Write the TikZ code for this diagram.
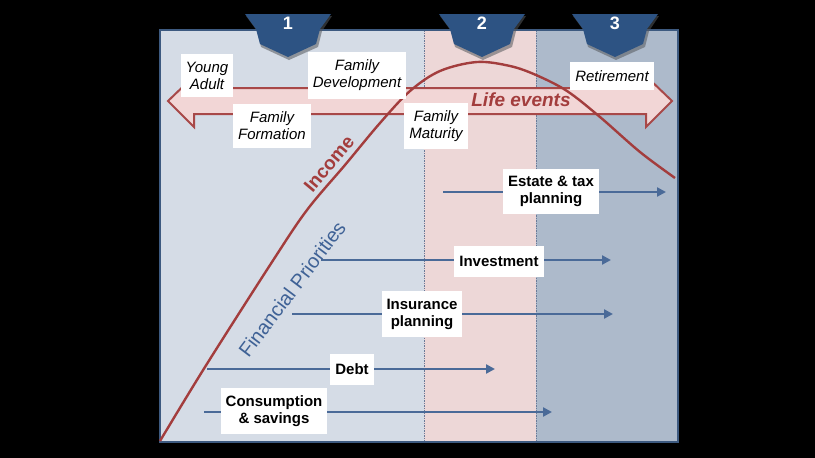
\documentclass[tikz,border=0pt]{standalone}
\usepackage{fontspec}
\setmainfont{Liberation Sans}
\usetikzlibrary{arrows.meta}
\definecolor{bgleft}{HTML}{D5DCE6}
\definecolor{bgmid}{HTML}{EDD7D7}
\definecolor{bgright}{HTML}{ADBACB}
\definecolor{framec}{HTML}{3D5A80}
\definecolor{divc}{HTML}{6A7A98}
\definecolor{tabblue}{HTML}{2D5383}
\definecolor{arrowblue}{HTML}{4A6A98}
\definecolor{incred}{HTML}{A33D3D}
\definecolor{lifefill}{HTML}{F2D6D6}
\definecolor{lifeline}{HTML}{A84848}
\definecolor{prioblue}{HTML}{3F6296}
\begin{document}
\begin{tikzpicture}[x=1pt,y=-1pt,
  lbl/.style={fill=white, inner xsep=5pt, inner ysep=8pt, align=center,
    font=\fontsize{15}{17}\selectfont\itshape},
  pri/.style={fill=white, inner xsep=5pt, inner ysep=7.5pt, minimum height=31pt,
    align=center, font=\fontsize{15}{17}\selectfont\bfseries},
  flow/.style={draw=arrowblue, line width=2.8pt, -{Triangle[length=9pt,width=9pt]}},
  divider/.style={draw=divc, line width=0.8pt, dash pattern=on 1.5pt off 1pt},
  tabnum/.style={text=white, font=\fontsize{18}{20}\selectfont\bfseries},
]
% background
\fill[black] (0,0) rectangle (815,458);
\useasboundingbox (0,0) rectangle (815,458);
% regions
\fill[bgleft] (160,30) rectangle (424,442);
\fill[bgmid] (424,30) rectangle (536,442);
\fill[bgright] (536,30) rectangle (678,442);
\draw[divider] (424,30) -- (424,442);
\draw[divider] (536,30) -- (536,442);
\draw[framec, line width=2pt] (160,30) rectangle (678,442);

% life events arrow
\filldraw[fill=lifefill, draw=lifeline, line width=2pt, line join=miter]
  (168,101) -- (194,76) -- (194,88) -- (646,88) -- (646,76) -- (672,101)
  -- (646,127) -- (646,114) -- (194,114) -- (194,127) -- cycle;
\node[text=incred, font=\fontsize{19}{21}\selectfont\bfseries\itshape] (life) at (521,100) {Life events};

% priority arrows (lines first)
\coordinate (estS) at (443,192); \coordinate (estE) at (666,192);
\coordinate (invS) at (321,260); \coordinate (invE) at (611,260);
\coordinate (insS) at (292,314); \coordinate (insE) at (613,314);
\coordinate (debS) at (207,369); \coordinate (debE) at (495,369);
\coordinate (conS) at (204,412); \coordinate (conE) at (552,412);
\draw[flow] (estS) -- (estE);
\draw[flow] (invS) -- (invE);
\draw[flow] (insS) -- (insE);
\draw[flow] (debS) -- (debE);
\draw[flow] (conS) -- (conE);

% income curve
\draw[incred, line width=2.4pt] plot[smooth, tension=0.55] coordinates {
  (160,441) (205,367) (272,262) (307,210) (345,165) (380,123) (410,91)
  (440,71) (477,62) (510,66) (536,75) (567,91) (600,117) (640,152) (675,178)};
\node[text=incred, font=\fontsize{19}{21}\selectfont\bfseries, rotate=50] (income) at (329,164) {Income};
\node[text=prioblue, font=\fontsize{20}{22}\selectfont, rotate=53] (fin) at (292,289) {Financial Priorities};

% life stage labels
\node[lbl] (young) at (207,75.5) {Young\\Adult};
\node[lbl] (fdev) at (357,75.5) {Family\\Development};
\node[lbl] (fform) at (272,126) {Family\\Formation};
\node[lbl] (fmat) at (436,126) {Family\\Maturity};
\node[lbl] (ret) at (612,76) {Retirement};

% priority labels
\node[pri] (est) at (551,191.5) {Estate \& tax\\planning};
\node[pri] (inv) at (499,261) {Investment};
\node[pri] (ins) at (422,314) {Insurance\\planning};
\node[pri] (deb) at (352,369.5) {Debt};
\node[pri] (con) at (274,411) {Consumption\\\& savings};

% tabs
\foreach \cx/\n in {288/1, 482/2, 615/3}{
  \fill[black!60!bgleft, opacity=0.55] (\cx-42,16) -- (\cx+44,16) -- (\cx+34,31) -- (\cx+30,47)
    -- (\cx+1,60) -- (\cx-27,47) -- (\cx-31,31) -- cycle;
  \fill[tabblue] (\cx-43,14) -- (\cx+43,14) -- (\cx+32,29) -- (\cx+28,44)
    -- (\cx,57) -- (\cx-28,44) -- (\cx-32,29) -- cycle;
  \node[tabnum] (tab\n) at (\cx,23) {\n};
}
\end{tikzpicture}
\end{document}
